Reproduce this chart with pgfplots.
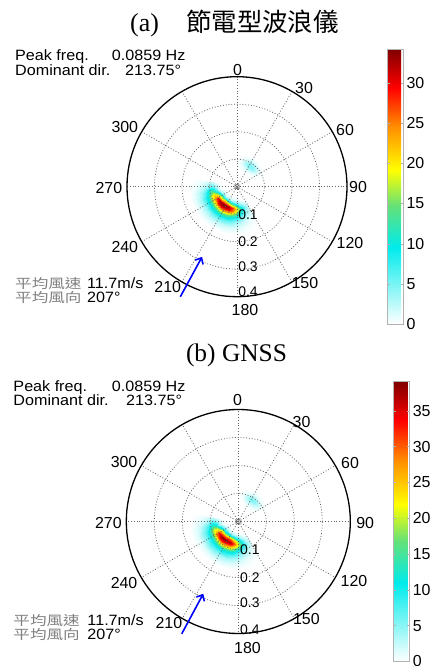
\documentclass[border=0pt]{standalone}
\usepackage{pgfplots}
\pgfplotsset{compat=1.18}
\usepackage{pgfplotstable}
\usetikzlibrary{arrows.meta}
\usepackage{fontspec}
\setmainfont{Liberation Sans}
\newfontfamily\cjk{Noto Sans CJK TC}
\newfontfamily\tnr{Liberation Serif}
\newcommand\af{\fontsize{16}{17}\selectfont}
\newcommand\rf{\fontsize{14}{15}\selectfont}
\newcommand\tf{\fontsize{15}{16}\selectfont}
\newcommand\xs[1]{\scalebox{1.08}[1]{#1}}
\newcommand\cj[1]{\textcolor{gray}{\cjk\fontsize{13.2}{13.2}\selectfont\scalebox{1.26}[1]{#1}}}

\pgfplotsset{
 colormap={wc}{rgb255(0cm)=(255,255,255); rgb255(2.8cm)=(0,235,235); rgb255(4.3cm)=(100,225,120); rgb255(5.6cm)=(255,255,0); rgb255(7.2cm)=(255,140,0); rgb255(8.6cm)=(255,0,0); rgb255(10cm)=(128,0,0)},
 cbar/.style={width=16bp, axis line style={gray!60,line width=0.6bp}, tick style={gray!60,line width=0.5bp}, major tick length=2.5bp, tick align=inside, ytick pos=both, yticklabel pos=right, yticklabel style={font=\af}, /pgf/number format/assume math mode=true},
 polarbox/.style={xmin=-0.5,xmax=0.5,ymin=-0.5,ymax=0.5, hide axis, clip=false, colormap name=wc, point meta min=0, colorbar, colorbar style={cbar, at={(parent axis.north east)}, anchor=north west}},
 spec/.style={surf, shader=interp, point meta=explicit},
}
\tikzset{gridd/.style={gray!80!black, line width=0.8bp, dash pattern=on 0.9bp off 1.9bp}}

% directional spectrum: direction a (deg, clockwise from north), frequency r (Hz), energy v
\pgfplotstableread[row sep=\\]{
a r v\\
150 0.04 0.02\\150 0.05 0.09\\150 0.06 0.39\\150 0.07 1.09\\150 0.08 1.71\\150 0.09 1.55\\150 0.10 1.09\\150 0.11 0.74\\150 0.12 0.49\\150 0.13 0.32\\150 0.14 0.19\\150 0.15 0.11\\150 0.16 0.05\\150 0.17 0.02\\
160 0.04 0.05\\160 0.05 0.25\\160 0.06 1.09\\160 0.07 3.06\\160 0.08 4.79\\160 0.09 4.35\\160 0.10 3.06\\160 0.11 2.08\\160 0.12 1.38\\160 0.13 0.89\\160 0.14 0.54\\160 0.15 0.30\\160 0.16 0.15\\160 0.17 0.05\\
170 0.04 0.11\\170 0.05 0.57\\170 0.06 2.49\\170 0.07 7.00\\170 0.08 10.96\\170 0.09 9.94\\170 0.10 7.00\\170 0.11 4.75\\170 0.12 3.16\\170 0.13 2.03\\170 0.14 1.24\\170 0.15 0.68\\170 0.16 0.34\\170 0.17 0.11\\
180 0.04 0.20\\180 0.05 1.01\\180 0.06 4.43\\180 0.07 12.48\\180 0.08 19.52\\180 0.09 17.70\\180 0.10 12.48\\180 0.11 8.45\\180 0.12 5.63\\180 0.13 3.62\\180 0.14 2.21\\180 0.15 1.21\\180 0.16 0.60\\180 0.17 0.20\\
190 0.04 0.28\\190 0.05 1.42\\190 0.06 6.22\\190 0.07 17.51\\190 0.08 27.39\\190 0.09 24.85\\190 0.10 17.51\\190 0.11 11.86\\190 0.12 7.90\\190 0.13 5.08\\190 0.14 3.10\\190 0.15 1.70\\190 0.16 0.85\\190 0.17 0.28\\
200 0.04 0.33\\200 0.05 1.68\\200 0.06 7.38\\200 0.07 20.80\\200 0.08 32.53\\200 0.09 29.51\\200 0.10 20.80\\200 0.11 14.09\\200 0.12 9.39\\200 0.13 6.03\\200 0.14 3.69\\200 0.15 2.01\\200 0.16 1.01\\200 0.17 0.33\\
210 0.04 0.35\\210 0.05 1.77\\210 0.06 7.77\\210 0.07 21.89\\210 0.08 33.80\\210 0.09 31.06\\210 0.10 21.89\\210 0.11 14.83\\210 0.12 9.88\\210 0.13 6.35\\210 0.14 3.88\\210 0.15 2.12\\210 0.16 1.06\\210 0.17 0.35\\
220 0.04 0.35\\220 0.05 1.77\\220 0.06 7.77\\220 0.07 21.89\\220 0.08 34.20\\220 0.09 31.06\\220 0.10 21.89\\220 0.11 14.83\\220 0.12 9.88\\220 0.13 6.35\\220 0.14 3.88\\220 0.15 2.12\\220 0.16 1.06\\220 0.17 0.35\\
230 0.04 0.34\\230 0.05 1.70\\230 0.06 7.46\\230 0.07 21.01\\230 0.08 32.87\\230 0.09 29.82\\230 0.10 21.01\\230 0.11 14.24\\230 0.12 9.48\\230 0.13 6.10\\230 0.14 3.72\\230 0.15 2.04\\230 0.16 1.02\\230 0.17 0.34\\
240 0.04 0.30\\240 0.05 1.50\\240 0.06 6.60\\240 0.07 18.61\\240 0.08 29.10\\240 0.09 26.40\\240 0.10 18.61\\240 0.11 12.61\\240 0.12 8.40\\240 0.13 5.40\\240 0.14 3.30\\240 0.15 1.80\\240 0.16 0.90\\240 0.17 0.30\\
250 0.04 0.15\\250 0.05 0.69\\250 0.06 3.10\\250 0.07 9.64\\250 0.08 18.25\\250 0.09 21.22\\250 0.10 17.21\\250 0.11 11.93\\250 0.12 8.03\\250 0.13 5.28\\250 0.14 3.33\\250 0.15 1.95\\250 0.16 1.03\\250 0.17 0.46\\
260 0.04 0.04\\260 0.05 0.14\\260 0.06 0.71\\260 0.07 3.11\\260 0.08 8.76\\260 0.09 13.70\\260 0.10 12.42\\260 0.11 8.76\\260 0.12 5.93\\260 0.13 3.95\\260 0.14 2.54\\260 0.15 1.55\\260 0.16 0.85\\260 0.17 0.42\\
270 0.04 0.02\\270 0.05 0.06\\270 0.06 0.32\\270 0.07 1.40\\270 0.08 3.94\\270 0.09 6.16\\270 0.10 5.59\\270 0.11 3.94\\270 0.12 2.67\\270 0.13 1.78\\270 0.14 1.14\\270 0.15 0.70\\270 0.16 0.38\\270 0.17 0.19\\
280 0.04 0.01\\280 0.05 0.02\\280 0.06 0.11\\280 0.07 0.47\\280 0.08 1.31\\280 0.09 2.05\\280 0.10 1.86\\280 0.11 1.31\\280 0.12 0.89\\280 0.13 0.59\\280 0.14 0.38\\280 0.15 0.23\\280 0.16 0.13\\280 0.17 0.06\\
}\mainA

\pgfplotstableread[row sep=\\]{
a r v\\
0 0.04 0\\0 0.05 0\\0 0.06 0\\0 0.07 0\\0 0.08 0\\0 0.09 0\\0 0.10 0\\0 0.11 0\\0 0.12 0\\0 0.13 0\\0 0.14 0\\
10 0.04 0\\10 0.05 0\\10 0.06 0.04\\10 0.07 0.20\\10 0.08 0.62\\10 0.09 0.81\\10 0.10 0.50\\10 0.11 0.15\\10 0.12 0.02\\10 0.13 0\\10 0.14 0\\
20 0.04 0\\20 0.05 0.02\\20 0.06 0.15\\20 0.07 0.80\\20 0.08 2.40\\20 0.09 3.24\\20 0.10 2.00\\20 0.11 0.60\\20 0.12 0.08\\20 0.13 0\\20 0.14 0\\
30 0.04 0\\30 0.05 0.03\\30 0.06 0.25\\30 0.07 1.30\\30 0.08 3.92\\30 0.09 5.29\\30 0.10 3.30\\30 0.11 1.00\\30 0.12 0.15\\30 0.13 0.01\\30 0.14 0\\
40 0.04 0\\40 0.05 0.02\\40 0.06 0.22\\40 0.07 1.12\\40 0.08 3.40\\40 0.09 4.59\\40 0.10 2.85\\40 0.11 0.85\\40 0.12 0.12\\40 0.13 0.01\\40 0.14 0\\
50 0.04 0\\50 0.05 0.01\\50 0.06 0.10\\50 0.07 0.52\\50 0.08 1.60\\50 0.09 2.16\\50 0.10 1.35\\50 0.11 0.40\\50 0.12 0.05\\50 0.13 0\\50 0.14 0\\
60 0.04 0\\60 0.05 0\\60 0.06 0.02\\60 0.07 0.10\\60 0.08 0.32\\60 0.09 0.43\\60 0.10 0.27\\60 0.11 0.08\\60 0.12 0.01\\60 0.13 0\\60 0.14 0\\
70 0.04 0\\70 0.05 0\\70 0.06 0\\70 0.07 0\\70 0.08 0\\70 0.09 0\\70 0.10 0\\70 0.11 0\\70 0.12 0\\70 0.13 0\\70 0.14 0\\
}\secA

\pgfplotstableread[row sep=\\]{
a r v\\
150 0.04 0.03\\150 0.05 0.14\\150 0.06 0.52\\150 0.07 1.17\\150 0.08 1.56\\150 0.09 1.33\\150 0.10 0.91\\150 0.11 0.61\\150 0.12 0.41\\150 0.13 0.27\\150 0.14 0.16\\150 0.15 0.09\\150 0.16 0.04\\150 0.17 0.02\\
160 0.04 0.09\\160 0.05 0.42\\160 0.06 1.55\\160 0.07 3.52\\160 0.08 4.69\\160 0.09 3.99\\160 0.10 2.72\\160 0.11 1.83\\160 0.12 1.22\\160 0.13 0.80\\160 0.14 0.47\\160 0.15 0.26\\160 0.16 0.12\\160 0.17 0.05\\
170 0.04 0.23\\170 0.05 1.02\\170 0.06 3.74\\170 0.07 8.51\\170 0.08 11.34\\170 0.09 9.64\\170 0.10 6.58\\170 0.11 4.42\\170 0.12 2.95\\170 0.13 1.93\\170 0.14 1.13\\170 0.15 0.62\\170 0.16 0.28\\170 0.17 0.11\\
180 0.04 0.42\\180 0.05 1.90\\180 0.06 6.97\\180 0.07 15.84\\180 0.08 21.11\\180 0.09 17.95\\180 0.10 12.25\\180 0.11 8.24\\180 0.12 5.49\\180 0.13 3.59\\180 0.14 2.11\\180 0.15 1.16\\180 0.16 0.53\\180 0.17 0.21\\
190 0.04 0.61\\190 0.05 2.75\\190 0.06 10.06\\190 0.07 22.88\\190 0.08 30.50\\190 0.09 25.93\\190 0.10 17.69\\190 0.11 11.90\\190 0.12 7.93\\190 0.13 5.19\\190 0.14 3.05\\190 0.15 1.68\\190 0.16 0.76\\190 0.17 0.30\\
200 0.04 0.73\\200 0.05 3.31\\200 0.06 12.13\\200 0.07 27.57\\200 0.08 36.75\\200 0.09 31.25\\200 0.10 21.32\\200 0.11 14.34\\200 0.12 9.56\\200 0.13 6.25\\200 0.14 3.68\\200 0.15 2.02\\200 0.16 0.92\\200 0.17 0.37\\
210 0.04 0.78\\210 0.05 3.52\\210 0.06 12.90\\210 0.07 29.33\\210 0.08 38.50\\210 0.09 33.24\\210 0.10 22.68\\210 0.11 15.25\\210 0.12 10.17\\210 0.13 6.65\\210 0.14 3.91\\210 0.15 2.15\\210 0.16 0.98\\210 0.17 0.39\\
220 0.04 0.78\\220 0.05 3.52\\220 0.06 12.90\\220 0.07 29.33\\220 0.08 39.10\\220 0.09 33.24\\220 0.10 22.68\\220 0.11 15.25\\220 0.12 10.17\\220 0.13 6.65\\220 0.14 3.91\\220 0.15 2.15\\220 0.16 0.98\\220 0.17 0.39\\
230 0.04 0.76\\230 0.05 3.41\\230 0.06 12.51\\230 0.07 28.45\\230 0.08 37.93\\230 0.09 32.24\\230 0.10 22.00\\230 0.11 14.79\\230 0.12 9.86\\230 0.13 6.45\\230 0.14 3.79\\230 0.15 2.09\\230 0.16 0.95\\230 0.17 0.38\\
240 0.04 0.66\\240 0.05 2.99\\240 0.06 10.97\\240 0.07 24.93\\240 0.08 33.24\\240 0.09 28.25\\240 0.10 19.28\\240 0.11 12.96\\240 0.12 8.64\\240 0.13 5.65\\240 0.14 3.32\\240 0.15 1.83\\240 0.16 0.83\\240 0.17 0.33\\
250 0.04 0.31\\250 0.05 1.35\\250 0.06 5.17\\250 0.07 13.30\\250 0.08 21.56\\250 0.09 22.79\\250 0.10 17.61\\250 0.11 11.95\\250 0.12 8.01\\250 0.13 5.30\\250 0.14 3.33\\250 0.15 1.91\\250 0.16 0.99\\250 0.17 0.43\\
260 0.04 0.07\\260 0.05 0.29\\260 0.06 1.30\\260 0.07 4.77\\260 0.08 10.85\\260 0.09 14.47\\260 0.10 12.30\\260 0.11 8.39\\260 0.12 5.64\\260 0.13 3.76\\260 0.14 2.46\\260 0.15 1.45\\260 0.16 0.80\\260 0.17 0.36\\
270 0.04 0.03\\270 0.05 0.12\\270 0.06 0.56\\270 0.07 2.06\\270 0.08 4.69\\270 0.09 6.26\\270 0.10 5.32\\270 0.11 3.63\\270 0.12 2.44\\270 0.13 1.63\\270 0.14 1.06\\270 0.15 0.63\\270 0.16 0.34\\270 0.17 0.16\\
280 0.04 0.01\\280 0.05 0.04\\280 0.06 0.18\\280 0.07 0.65\\280 0.08 1.47\\280 0.09 1.96\\280 0.10 1.66\\280 0.11 1.13\\280 0.12 0.76\\280 0.13 0.51\\280 0.14 0.33\\280 0.15 0.20\\280 0.16 0.11\\280 0.17 0.05\\
}\mainB

\pgfplotstableread[row sep=\\]{
a r v\\
0 0.04 0\\0 0.05 0\\0 0.06 0\\0 0.07 0\\0 0.08 0\\0 0.09 0\\0 0.10 0\\0 0.11 0\\0 0.12 0\\0 0.13 0\\0 0.14 0\\
10 0.04 0\\10 0.05 0\\10 0.06 0.03\\10 0.07 0.14\\10 0.08 0.45\\10 0.09 0.76\\10 0.10 0.50\\10 0.11 0.15\\10 0.12 0.02\\10 0.13 0\\10 0.14 0\\
20 0.04 0\\20 0.05 0.01\\20 0.06 0.10\\20 0.07 0.60\\20 0.08 2.08\\20 0.09 3.47\\20 0.10 2.30\\20 0.11 0.70\\20 0.12 0.10\\20 0.13 0.01\\20 0.14 0\\
30 0.04 0\\30 0.05 0.02\\30 0.06 0.20\\30 0.07 1.10\\30 0.08 3.70\\30 0.09 6.17\\30 0.10 4.10\\30 0.11 1.25\\30 0.12 0.18\\30 0.13 0.02\\30 0.14 0\\
40 0.04 0\\40 0.05 0.02\\40 0.06 0.17\\40 0.07 0.95\\40 0.08 3.21\\40 0.09 5.36\\40 0.10 3.55\\40 0.11 1.08\\40 0.12 0.15\\40 0.13 0.01\\40 0.14 0\\
50 0.04 0\\50 0.05 0.01\\50 0.06 0.08\\50 0.07 0.45\\50 0.08 1.51\\50 0.09 2.52\\50 0.10 1.67\\50 0.11 0.50\\50 0.12 0.07\\50 0.13 0\\50 0.14 0\\
60 0.04 0\\60 0.05 0\\60 0.06 0.02\\60 0.07 0.09\\60 0.08 0.30\\60 0.09 0.50\\60 0.10 0.33\\60 0.11 0.10\\60 0.12 0.01\\60 0.13 0\\60 0.14 0\\
70 0.04 0\\70 0.05 0\\70 0.06 0\\70 0.07 0\\70 0.08 0\\70 0.09 0\\70 0.10 0\\70 0.11 0\\70 0.12 0\\70 0.13 0\\70 0.14 0\\
}\secB

\begin{document}
\begin{tikzpicture}
\useasboundingbox (0,0) rectangle (433bp,666bp);

% ---------------- (a) ----------------
\begin{axis}[polarbox, at={(99.5bp,341.8bp)}, anchor=south west, x=275bp, y=275bp,
  point meta max=34.2, colorbar style={xshift=4bp, ytick={0,5,...,30}}]
\addplot[spec, mesh/cols=14] table[x expr={\thisrow{r}*sin(\thisrow{a})}, y expr={\thisrow{r}*cos(\thisrow{a})}, meta=v] {\mainA};
\addplot[spec, mesh/cols=11] table[x expr={\thisrow{r}*sin(\thisrow{a})}, y expr={\thisrow{r}*cos(\thisrow{a})}, meta=v] {\secA};
\draw[gridd] (axis cs:0,0) circle[radius=0.1];
\draw[gridd] (axis cs:0,0) circle[radius=0.2];
\draw[gridd] (axis cs:0,0) circle[radius=0.3];
\pgfplotsinvokeforeach{0,30,...,330}{\draw[gridd] (axis cs:0,0) -- (axis cs:{0.4*sin(#1)},{0.4*cos(#1)});}
\draw[black, line width=1.3bp] (axis cs:0,0) circle[radius=0.4];
\addplot[only marks, mark=o, mark size=2.2bp, black!70, mark options={line width=0.6bp}] coordinates {(0,0)};
\node[font=\af] at (axis cs:0.002,0.424) {0};
\node[font=\af] at (axis cs:0.244,0.359) {30};
\node[font=\af] at (axis cs:0.393,0.206) {60};
\node[font=\af] at (axis cs:0.44,-0.001) {90};
\node[font=\af] at (axis cs:0.411,-0.205) {120};
\node[font=\af] at (axis cs:0.247,-0.350) {150};
\node[font=\af] at (axis cs:0.029,-0.448) {180};
\node[font=\af] at (axis cs:-0.252,-0.365) {210};
\node[font=\af] at (axis cs:-0.408,-0.219) {240};
\node[font=\af] at (axis cs:-0.466,-0.005) {270};
\node[font=\af] at (axis cs:-0.408,0.217) {300};
\node[font=\rf, anchor=west, inner sep=0] at (axis cs:0.004,-0.103) {0.1};
\node[font=\rf, anchor=west, inner sep=0] at (axis cs:0.004,-0.200) {0.2};
\node[font=\rf, anchor=west, inner sep=0] at (axis cs:0.004,-0.291) {0.3};
\node[font=\rf, anchor=west, inner sep=0] at (axis cs:0.004,-0.382) {0.4};
\draw[blue, line width=1.6bp, -{Straight Barb[length=5bp, width=9bp]}] (axis cs:-0.206,-0.400) -- (axis cs:-0.127,-0.255);
\end{axis}

% ---------------- (b) ----------------
\begin{axis}[polarbox, at={(98.3bp,4.5bp)}, anchor=south west, x=280bp, y=280bp,
  point meta max=39.1, colorbar style={xshift=6.5bp, ytick={0,5,...,35}}]
\addplot[spec, mesh/cols=14] table[x expr={\thisrow{r}*sin(\thisrow{a})}, y expr={\thisrow{r}*cos(\thisrow{a})}, meta=v] {\mainB};
\addplot[spec, mesh/cols=11] table[x expr={\thisrow{r}*sin(\thisrow{a})}, y expr={\thisrow{r}*cos(\thisrow{a})}, meta=v] {\secB};
\draw[gridd] (axis cs:0,0) circle[radius=0.1];
\draw[gridd] (axis cs:0,0) circle[radius=0.2];
\draw[gridd] (axis cs:0,0) circle[radius=0.3];
\pgfplotsinvokeforeach{0,30,...,330}{\draw[gridd] (axis cs:0,0) -- (axis cs:{0.4*sin(#1)},{0.4*cos(#1)});}
\draw[black, line width=1.3bp] (axis cs:0,0) circle[radius=0.4];
\addplot[only marks, mark=o, mark size=2.2bp, black!70, mark options={line width=0.6bp}] coordinates {(0,0)};
\node[font=\af] at (axis cs:-0.003,0.435) {0};
\node[font=\af] at (axis cs:0.226,0.357) {30};
\node[font=\af] at (axis cs:0.399,0.209) {60};
\node[font=\af] at (axis cs:0.453,-0.004) {90};
\node[font=\af] at (axis cs:0.413,-0.214) {120};
\node[font=\af] at (axis cs:0.243,-0.350) {150};
\node[font=\af] at (axis cs:0.033,-0.452) {180};
\node[font=\af] at (axis cs:-0.248,-0.363) {210};
\node[font=\af] at (axis cs:-0.408,-0.220) {240};
\node[font=\af] at (axis cs:-0.464,-0.004) {270};
\node[font=\af] at (axis cs:-0.408,0.214) {300};
\node[font=\rf, anchor=west, inner sep=0] at (axis cs:0.006,-0.101) {0.1};
\node[font=\rf, anchor=west, inner sep=0] at (axis cs:0.006,-0.202) {0.2};
\node[font=\rf, anchor=west, inner sep=0] at (axis cs:0.006,-0.291) {0.3};
\node[font=\rf, anchor=west, inner sep=0] at (axis cs:0.006,-0.387) {0.4};
\draw[blue, line width=1.6bp, -{Straight Barb[length=5bp, width=9bp]}] (axis cs:-0.202,-0.401) -- (axis cs:-0.125,-0.258);
\end{axis}

% ---------------- texts ----------------
\node[anchor=base west, inner sep=0] at (130bp,634.5bp) {\tnr\fontsize{26}{26}\selectfont(a)};
\node[anchor=base west, inner sep=0] at (186bp,634.5bp) {\cjk\fontsize{25.5}{26}\selectfont 節電型波浪儀};
\node[anchor=base west, inner sep=0] at (15bp,605.3bp) {\tf\xs{Peak freq.}};
\node[anchor=base west, inner sep=0] at (111.7bp,605.3bp) {\tf\xs{0.0859 Hz}};
\node[anchor=base west, inner sep=0] at (15bp,590bp) {\tf\xs{Dominant dir.}};
\node[anchor=base west, inner sep=0] at (125bp,590bp) {\tf\xs{213.75°}};
\node[anchor=base west, inner sep=0] at (15bp,377.5bp) {\cj{平均風速}};
\node[anchor=base west, inner sep=0] at (87bp,377bp) {\tf\xs{11.7m/s}};
\node[anchor=base west, inner sep=0] at (15bp,363.5bp) {\cj{平均風向}};
\node[anchor=base west, inner sep=0] at (87bp,363.5bp) {\tf\xs{207°}};

\node[anchor=base, inner sep=0] at (236.5bp,304.3bp) {\tnr\fontsize{25.5}{26}\selectfont (b) GNSS};
\node[anchor=base west, inner sep=0] at (13.3bp,274.3bp) {\tf\xs{Peak freq.}};
\node[anchor=base west, inner sep=0] at (111.7bp,274.3bp) {\tf\xs{0.0859 Hz}};
\node[anchor=base west, inner sep=0] at (13.3bp,260.3bp) {\tf\xs{Dominant dir.}};
\node[anchor=base west, inner sep=0] at (126bp,260.3bp) {\tf\xs{213.75°}};
\node[anchor=base west, inner sep=0] at (13.3bp,40.8bp) {\cj{平均風速}};
\node[anchor=base west, inner sep=0] at (87.3bp,40.3bp) {\tf\xs{11.7m/s}};
\node[anchor=base west, inner sep=0] at (13.3bp,26.8bp) {\cj{平均風向}};
\node[anchor=base west, inner sep=0] at (87.3bp,26.8bp) {\tf\xs{207°}};
\end{tikzpicture}
\end{document}
